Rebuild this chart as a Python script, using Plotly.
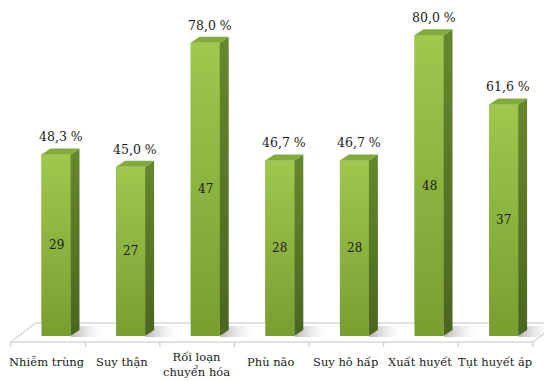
import plotly.graph_objects as go

# ---- data ----
categories = ["Nhiễm trùng", "Suy thận", "Rối loạn<br>chuyển hóa", "Phù não",
              "Suy hô hấp", "Xuất huyết", "Tụt huyết áp"]
percents = [48.3, 45.0, 78.0, 46.7, 46.7, 80.0, 61.6]
counts = [29, 27, 47, 28, 28, 48, 37]
pct_labels = ["48,3 %", "45,0 %", "78,0 %", "46,7 %", "46,7 %", "80,0 %", "61,6 %"]

# ---- geometry (pixel based scale) ----
W, H = 544, 381
PX_PER_CAT = 74.6
X0_PX = 56.0
PX_PER_PCT = 3.76
BASE_PX = 336.0

def dxu(px):
    return px / PX_PER_CAT

def dyu(px):
    return px / PX_PER_PCT

xr = [-X0_PX / PX_PER_CAT, (W - X0_PX) / PX_PER_CAT]
yr = [-(H - BASE_PX) / PX_PER_PCT, BASE_PX / PX_PER_PCT]

BW = dxu(29)
DX, DY = dxu(9), dyu(6)
n = len(categories)
xs = list(range(n))

FRONT_TOP, FRONT_BOT = "#9FC84E", "#799E30"
SIDE_TOP, SIDE_BOT = "#66882D", "#4A661F"
TOP_COL = "#82AA3C"
SERIF = "DejaVu Serif"
TXT = "#1a1a1a"

fig = go.Figure()

# floor
fx0 = -0.5 - dxu(8)
fx1 = n - 0.5 - dxu(8)
fy = -dyu(6)
bdx, bdy = dxu(25), dyu(19)
fig.add_trace(go.Scatter(
    x=[fx0, fx1, fx1 + bdx, fx0 + bdx, fx0],
    y=[fy, fy, fy + bdy, fy + bdy, fy],
    mode="lines", fill="toself", fillcolor="white",
    line=dict(color="#C4C4C4", width=1), hoverinfo="skip", showlegend=False))
# ticks on front edge
tx, ty = [], []
for k in range(n + 1):
    x = k - 0.5 - dxu(8)
    tx += [x, x, None]
    ty += [fy, fy - dyu(5), None]
fig.add_trace(go.Scatter(x=tx, y=ty, mode="lines",
                         line=dict(color="#C4C4C4", width=1),
                         hoverinfo="skip", showlegend=False))

# shadows
for i in xs:
    x1 = i + BW / 2
    fig.add_trace(go.Scatter(
        x=[x1, x1 + DX + dxu(20), x1 + DX + dxu(20) + DX, x1 + DX, x1],
        y=[-dyu(1), -dyu(1), DY + dyu(4), DY + dyu(4), -dyu(1)],
        mode="lines", line=dict(width=0), fill="toself",
        fillgradient=dict(type="horizontal",
                          colorscale=[[0, "rgba(90,90,90,0.45)"], [1, "rgba(255,255,255,0)"]]),
        hoverinfo="skip", showlegend=False))

# front faces (bars)
fig.add_trace(go.Bar(x=xs, y=percents, width=BW, marker=dict(color="#8CB53F", line=dict(width=0)),
                     hoverinfo="skip", showlegend=False))
for i, p in zip(xs, percents):
    x0, x1 = i - BW / 2, i + BW / 2
    fig.add_trace(go.Scatter(
        x=[x0, x1, x1, x0, x0], y=[0, 0, p, p, 0], mode="lines",
        line=dict(width=0), fill="toself",
        fillgradient=dict(type="vertical", colorscale=[[0, FRONT_BOT], [1, FRONT_TOP]]),
        hoverinfo="skip", showlegend=False))
    # side face
    fig.add_trace(go.Scatter(
        x=[x1, x1 + DX, x1 + DX, x1, x1], y=[0, DY, p + DY, p, 0], mode="lines",
        line=dict(width=0), fill="toself",
        fillgradient=dict(type="vertical", colorscale=[[0, SIDE_BOT], [1, SIDE_TOP]]),
        hoverinfo="skip", showlegend=False))
    # top face
    fig.add_trace(go.Scatter(
        x=[x0, x1, x1 + DX, x0 + DX, x0], y=[p, p, p + DY, p + DY, p], mode="lines",
        line=dict(width=0), fill="toself", fillcolor=TOP_COL,
        hoverinfo="skip", showlegend=False))

annotations = []
for i, p, c, lab, cat in zip(xs, percents, counts, pct_labels, categories):
    annotations.append(dict(x=i + DX / 2, y=p + DY, text=lab, showarrow=False,
                            xanchor="center", yanchor="bottom", yshift=2,
                            font=dict(family=SERIF, size=12.5, color=TXT)))
    annotations.append(dict(x=i, y=p / 2, text=str(c), showarrow=False,
                            xanchor="center", yanchor="middle",
                            font=dict(family=SERIF, size=12, color=TXT)))
    if "<br>" in cat:
        annotations.append(dict(x=i - dxu(9), y=yr[0], text=cat, showarrow=False,
                                xanchor="center", yanchor="bottom",
                                font=dict(family=SERIF, size=11.5, color=TXT)))
    else:
        annotations.append(dict(x=i - dxu(9), y=-dyu(26), text=cat, showarrow=False,
                                xanchor="center", yanchor="middle",
                                font=dict(family=SERIF, size=11.5, color=TXT)))

fig.update_layout(
    width=W, height=H, autosize=False,
    margin=dict(l=0, r=0, t=0, b=0),
    paper_bgcolor="white", plot_bgcolor="white",
    xaxis=dict(range=xr, visible=False, fixedrange=True),
    yaxis=dict(range=yr, visible=False, fixedrange=True),
    annotations=annotations, barmode="overlay",
)
fig.write_html("out.html")
